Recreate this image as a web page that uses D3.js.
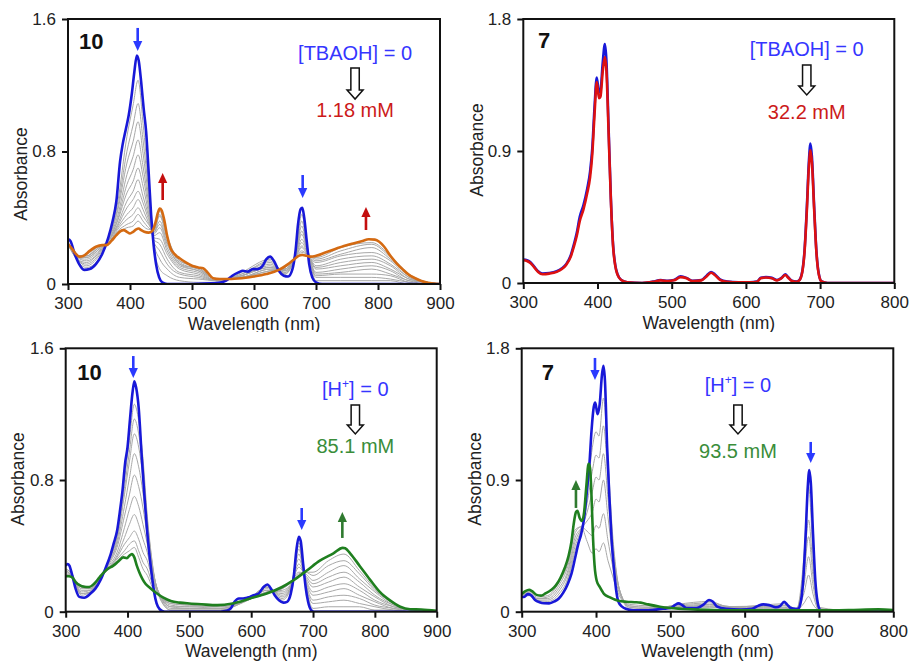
<!DOCTYPE html>
<html><head><meta charset="utf-8">
<script src="https://cdn.jsdelivr.net/npm/d3@7"></script>
<style>
body{margin:0;background:#fff}
svg{display:block}
text{font-family:"Liberation Sans",Arial,Helvetica,sans-serif}
</style>
</head><body>
<svg id="c" width="910" height="662"></svg>
<script>
// ---------------- DATA ----------------
const xTicksA = [300,400,500,600,700,800,900];
const xTicksB = [300,400,500,600,700,800];
const yTicksA = [0,0.8,1.6];
const yTicksB = [0,0.9,1.8];
const yTickLabelsA = ["0","0.8","1.6"];
const yTickLabelsB = ["0","0.9","1.8"];

// Panel 1: compound 10 + TBAOH
const p1BlueWl = [300,304,310,318,326,335,345,355,365,372,378,384,388,393,398,403,407,411,414,418,422,426,430,434,438,442,447,452,460,500,540,555,565,575,582,590,598,606,614,620,626,632,640,648,655,662,667,671,675,678,681,685,689,694,700,710,900];
const p1BlueAbs = [.27,.26,.19,.12,.085,.09,.12,.18,.28,.38,.50,.74,.84,.93,1.02,1.15,1.28,1.38,1.35,1.22,1.06,.92,.68,.42,.24,.12,.04,.01,0,0,.005,.02,.05,.07,.08,.075,.09,.09,.11,.15,.165,.14,.08,.05,.045,.09,.20,.36,.45,.46,.40,.26,.12,.04,.01,0,0];
const p1EndWl = [300,305,312,318,325,335,345,355,362,370,378,385,390,395,400,405,410,414,418,423,430,436,441,445,448,451,455,460,465,472,480,490,500,510,518,525,534,545,560,580,600,620,640,655,665,672,678,685,692,700,715,730,745,760,775,785,795,802,810,820,830,840,850,860,870,880,890,900];
const p1EndAbs = [.24,.22,.185,.165,.17,.20,.225,.235,.235,.26,.295,.32,.325,.315,.305,.315,.33,.335,.325,.315,.31,.32,.37,.43,.455,.445,.39,.29,.22,.18,.155,.13,.11,.10,.095,.07,.035,.03,.03,.035,.045,.06,.085,.12,.15,.17,.175,.17,.165,.17,.19,.21,.23,.245,.26,.27,.268,.255,.225,.17,.125,.088,.055,.035,.018,.008,.003,0];
const p1GrayWl = [300,315,330,350,365,380,395,405,413,421,430,438,448,460,480,510,540,580,626,650,668,677,686,700,740,790,820,850,880,900];
const p1Gray = [
 [.26,.14,.10,.15,.28,.49,.89,1.08,1.23,.97,.60,.24,.09,.05,.02,.01,.01,.07,.15,.06,.21,.42,.23,.02,.02,.02,.02,.00,0,0],
 [.25,.15,.11,.17,.27,.46,.80,.96,1.09,.87,.56,.25,.15,.09,.04,.03,.02,.06,.14,.06,.20,.38,.22,.04,.04,.04,.03,.01,0,0],
 [.25,.15,.12,.18,.27,.44,.73,.86,.98,.79,.52,.26,.20,.12,.06,.04,.02,.06,.13,.07,.20,.35,.21,.05,.06,.06,.05,.01,0,0],
 [.25,.15,.13,.19,.27,.41,.66,.77,.87,.71,.49,.27,.24,.15,.07,.05,.02,.05,.12,.07,.19,.32,.21,.06,.07,.09,.06,.02,0,0],
 [.25,.16,.14,.19,.26,.39,.60,.69,.78,.65,.46,.28,.27,.18,.09,.06,.02,.05,.11,.08,.19,.30,.20,.07,.09,.11,.08,.02,.01,0],
 [.25,.16,.15,.20,.26,.38,.55,.62,.70,.59,.43,.29,.31,.20,.10,.07,.02,.05,.10,.08,.18,.27,.20,.09,.11,.13,.09,.03,.01,0],
 [.25,.16,.16,.21,.26,.36,.50,.56,.63,.53,.41,.30,.34,.22,.11,.08,.02,.05,.10,.09,.18,.25,.19,.10,.13,.15,.11,.03,.01,0],
 [.24,.16,.16,.21,.26,.35,.46,.51,.56,.49,.39,.31,.36,.24,.12,.08,.03,.04,.09,.09,.17,.23,.19,.11,.15,.17,.12,.04,.01,0],
 [.24,.17,.17,.22,.26,.34,.42,.46,.51,.45,.37,.31,.38,.25,.12,.09,.03,.04,.09,.09,.17,.22,.18,.13,.17,.19,.14,.04,.01,0],
 [.24,.17,.17,.22,.25,.33,.39,.42,.46,.41,.36,.32,.41,.27,.13,.09,.03,.04,.08,.09,.17,.20,.18,.14,.18,.22,.15,.05,.01,0],
 [.24,.17,.17,.23,.25,.32,.36,.38,.42,.38,.34,.32,.42,.28,.14,.10,.03,.04,.08,.10,.16,.19,.18,.15,.20,.24,.16,.05,.01,0],
 [.24,.17,.18,.23,.25,.31,.34,.35,.38,.35,.33,.33,.44,.29,.14,.10,.03,.04,.07,.10,.16,.18,.17,.16,.22,.25,.17,.06,.01,0]
];

// Panel 2: compound 7 + TBAOH
const p2Wl = [300,305,310,315,320,326,335,345,352,358,364,368,372,376,381,386,390,393,396,399,402,404,407,410,412,415,418,421,424,427,432,440,460,475,485,495,503,512,520,528,540,547,553,558,565,575,590,605,615,620,627,635,642,648,653,657,662,668,672,676,679,682,685,687,689,692,695,698,702,710,800];
const p2BlueAbs = [.16,.155,.14,.11,.08,.065,.068,.08,.10,.13,.19,.26,.34,.45,.53,.64,.76,.92,1.20,1.40,1.30,1.31,1.50,1.63,1.52,1.05,.58,.26,.12,.06,.02,.005,0,.01,.02,.015,.02,.045,.035,.015,.02,.05,.075,.06,.025,.01,.005,.005,.01,.035,.04,.035,.02,.035,.06,.04,.015,.01,.02,.08,.22,.50,.84,.95,.86,.52,.22,.07,.01,0,0];
const p2RedAbs = [.155,.15,.135,.105,.075,.06,.064,.076,.095,.125,.18,.245,.32,.42,.50,.61,.72,.88,1.15,1.37,1.26,1.27,1.44,1.54,1.45,1.02,.57,.25,.115,.055,.02,.005,0,.008,.018,.013,.018,.04,.032,.013,.018,.045,.07,.055,.022,.008,.004,.004,.008,.032,.037,.032,.018,.032,.055,.036,.013,.008,.018,.075,.21,.48,.80,.905,.82,.50,.21,.065,.01,0,0];

// Panel 3: compound 10 + H+
const p3BlueWl = [300,303,306,310,316,322,330,340,348,356,364,372,378,383,388,392,396,400,404,408,411,414,418,423,427,431,435,439,443,447,452,460,550,560,567,573,580,587,593,598,604,612,620,626,632,638,645,652,658,664,669,673,677,680,684,688,692,697,702,900];
const p3BlueAbs = [.28,.29,.28,.23,.14,.09,.085,.11,.14,.19,.26,.34,.42,.49,.62,.74,.90,1.00,1.17,1.33,1.40,1.36,1.24,.94,.72,.52,.36,.23,.12,.05,.015,0,0,.005,.02,.06,.08,.08,.085,.09,.10,.11,.15,.165,.14,.10,.07,.055,.06,.11,.22,.37,.455,.43,.29,.15,.06,.01,0,0];
const p3EndWl = [300,305,310,316,323,330,338,346,355,366,377,385,393,399,403,407,411,415,419,424,429,436,446,458,470,485,500,520,545,570,598,625,650,668,690,711,733,748,752,760,776,792,808,825,841,857,875,900];
const p3EndAbs = [.215,.215,.21,.18,.16,.152,.15,.17,.21,.255,.28,.305,.33,.325,.34,.35,.33,.28,.24,.20,.17,.145,.115,.085,.065,.055,.05,.045,.04,.05,.08,.11,.15,.19,.25,.31,.355,.388,.385,.355,.275,.195,.12,.067,.03,.015,.013,.005];
const p3GrayWl = [300,310,325,340,355,370,383,395,403,411,418,425,432,440,450,470,500,550,600,625,650,665,677,688,700,725,750,775,800,830,860,900];
const p3Gray = [
 [.26,.23,.10,.12,.19,.31,.47,.80,1.04,1.26,1.16,.93,.58,.30,.10,.01,.01,.01,.09,.15,.07,.15,.42,.16,.02,.03,.03,.03,.01,.01,0,0],
 [.26,.23,.11,.12,.19,.31,.45,.75,.97,1.17,1.08,.87,.56,.29,.11,.01,.01,.01,.09,.15,.08,.16,.40,.17,.05,.06,.07,.05,.03,.01,0,0],
 [.25,.22,.11,.12,.20,.30,.43,.71,.91,1.08,1.00,.81,.54,.28,.12,.02,.02,.02,.09,.15,.09,.16,.38,.18,.07,.09,.10,.08,.04,.02,0,0],
 [.25,.22,.12,.13,.20,.30,.41,.64,.81,.96,.88,.72,.50,.27,.12,.03,.02,.02,.08,.14,.10,.16,.35,.19,.10,.12,.14,.10,.06,.02,.01,0],
 [.24,.22,.13,.13,.20,.29,.39,.58,.71,.83,.76,.63,.46,.26,.12,.03,.03,.02,.08,.13,.11,.17,.32,.20,.12,.15,.17,.13,.07,.03,.01,0],
 [.23,.22,.14,.14,.20,.28,.36,.51,.62,.70,.64,.53,.41,.24,.12,.04,.03,.03,.08,.13,.12,.17,.29,.21,.15,.18,.21,.15,.09,.03,.01,0],
 [.23,.21,.15,.14,.21,.27,.34,.45,.53,.59,.53,.44,.36,.22,.11,.05,.04,.03,.08,.12,.13,.17,.27,.22,.17,.21,.24,.18,.10,.04,.01,0],
 [.22,.21,.15,.14,.21,.27,.33,.41,.45,.49,.44,.36,.31,.20,.11,.05,.04,.04,.08,.12,.14,.18,.24,.23,.19,.24,.28,.20,.12,.04,.01,0],
 [.22,.21,.16,.15,.21,.26,.32,.37,.41,.43,.37,.30,.26,.17,.10,.06,.05,.04,.08,.11,.14,.18,.23,.24,.22,.28,.31,.23,.13,.05,.01,0],
 [.22,.21,.16,.15,.21,.26,.31,.35,.37,.39,.33,.26,.22,.15,.10,.06,.05,.04,.08,.11,.15,.18,.22,.24,.24,.31,.35,.25,.14,.05,.01,0]
];

// Panel 4: compound 7 + H+
const p4BlueWl = [300,304,308,312,318,324,330,337,344,350,356,362,367,372,376,380,384,388,391,394,397,399,402,405,408,410,412,415,418,421,424,427,430,435,440,450,470,490,500,506,511,516,522,535,545,552,557,563,575,595,610,618,625,633,642,648,653,657,662,668,672,676,679,682,685,687,689,692,695,698,702,710,800];
const p4BlueAbs = [.10,.103,.12,.115,.08,.065,.058,.057,.07,.09,.13,.19,.26,.37,.46,.53,.64,.84,1.00,1.24,1.40,1.43,1.35,1.42,1.62,1.68,1.58,1.12,.78,.49,.30,.15,.07,.035,.02,.01,.01,.02,.025,.045,.057,.045,.025,.025,.05,.08,.07,.035,.02,.015,.02,.04,.05,.045,.03,.04,.068,.05,.025,.02,.02,.08,.23,.52,.86,.968,.88,.53,.22,.07,.01,0,0];
const p4EndWl = [300,305,310,314,320,326,332,340,346,352,358,363,367,370,373,375,378,381,384,387,390,392,394,396,398,401,405,411,418,430,441,452,460,470,486,500,531,560,600,650,700,740,780,800];
const p4EndAbs = [.12,.14,.15,.14,.115,.11,.125,.15,.18,.23,.30,.38,.48,.60,.68,.69,.64,.62,.68,.86,1.01,.98,.78,.50,.32,.21,.17,.12,.10,.075,.068,.065,.062,.05,.034,.025,.016,.012,.01,.01,.01,.012,.016,.012];
const p4GrayWl = [300,310,320,335,350,362,372,380,388,395,400,404,410,416,422,428,435,445,470,510,553,580,625,653,670,680,686,692,700,750,800];
const p4Gray = [
 [.10,.11,.07,.06,.10,.21,.42,.55,.80,1.12,1.23,1.20,1.46,1.05,.55,.25,.09,.02,.01,.05,.07,.03,.045,.055,.02,.40,.855,.40,.03,.005,.005],
 [.11,.12,.08,.07,.12,.23,.45,.56,.74,.96,1.07,1.05,1.27,.92,.50,.24,.10,.03,.02,.045,.06,.035,.04,.045,.02,.30,.627,.30,.02,.005,.005],
 [.11,.12,.08,.08,.14,.26,.48,.57,.68,.82,.92,.90,1.08,.78,.45,.23,.10,.03,.02,.04,.05,.035,.035,.04,.02,.25,.513,.24,.02,.005,.005],
 [.11,.13,.09,.09,.16,.28,.51,.57,.62,.68,.77,.75,.90,.65,.40,.21,.10,.04,.03,.035,.045,.035,.03,.03,.015,.19,.376,.18,.015,.005,.005],
 [.12,.13,.09,.10,.18,.31,.54,.58,.55,.52,.59,.57,.67,.49,.32,.18,.09,.04,.03,.03,.035,.03,.025,.025,.015,.13,.251,.12,.01,.005,.005],
 [.12,.14,.10,.11,.20,.33,.56,.58,.48,.40,.43,.41,.47,.35,.25,.15,.08,.05,.04,.03,.03,.025,.02,.02,.01,.06,.103,.05,.01,.005,.005]
];

// ---------------- COLOURS ----------------
const C = {
  blueLine:"#1818d8", blueText:"#3535ff", blueArrow:"#2a3aff",
  orange:"#d46a12", redText:"#cc1a1a", redArrow:"#c40e0e", redLine:"#dd1010",
  greenLine:"#1f7f1f", greenText:"#3a8d3a", greenArrow:"#2f7a2f",
  gray:"#a8a8a8", axis:"#111"
};
const FONT = '"Liberation Sans",Arial,Helvetica,sans-serif';

const svg = d3.select("#c");
svg.append("rect").attr("width",910).attr("height",662).attr("fill","#fff");
const defs = svg.append("defs");
defs.append("clipPath").attr("id","topclip").append("rect").attr("x",0).attr("y",0).attr("width",910).attr("height",332);

function drawPanel(root, cfg, idx){
  const x = d3.scaleLinear().domain(cfg.xDomain).range([cfg.left, cfg.right]);
  const y = d3.scaleLinear().domain(cfg.yDomain).range([cfg.bottom, cfg.top]);
  const g = root.append("g");
  const cid = "plotclip"+idx;
  defs.append("clipPath").attr("id",cid).append("rect")
    .attr("x",cfg.left).attr("y",cfg.top-6).attr("width",cfg.right-cfg.left).attr("height",cfg.bottom-cfg.top+6);
  const line = d3.line().x(d=>x(d[0])).y(d=>y(d[1])).curve(d3.curveMonotoneX);
  const lines = g.append("g").attr("clip-path",`url(#${cid})`);
  if (cfg.grays){
    cfg.grays.values.forEach(arr=>{
      lines.append("path").attr("d", line(d3.zip(cfg.grays.wl, arr)))
        .attr("fill","none").attr("stroke",C.gray).attr("stroke-width",1);
    });
  }
  cfg.series.forEach(s=>{
    lines.append("path").attr("d", line(d3.zip(s.wl, s.abs)))
      .attr("fill","none").attr("stroke",s.color).attr("stroke-width",s.width||2.6)
      .attr("stroke-linejoin","round");
  });
  // axes
  const xAxis = d3.axisBottom(x).tickValues(cfg.xTicks).tickFormat(d3.format("d")).tickSize(6).tickPadding(7).tickSizeOuter(0);
  const yAxis = d3.axisLeft(y).tickValues(cfg.yTicks).tickFormat((d,i)=>cfg.yTickLabels[i]).tickSize(6).tickPadding(6).tickSizeOuter(0);
  const gx = g.append("g").attr("transform",`translate(0,${cfg.bottom})`).call(xAxis);
  const gy = g.append("g").attr("transform",`translate(${cfg.left},0)`).call(yAxis);
  [gx,gy].forEach(a=>{
    a.select(".domain").remove();
    a.selectAll("line").attr("stroke",C.axis).attr("stroke-width",2);
    a.selectAll("text").attr("font-family",FONT).attr("font-size",17).attr("fill","#222");
  });
  // frame
  g.append("rect").attr("x",cfg.left).attr("y",cfg.top).attr("width",cfg.right-cfg.left).attr("height",cfg.bottom-cfg.top)
    .attr("fill","none").attr("stroke",C.axis).attr("stroke-width",2);
  // axis titles
  g.append("text").attr("x",(cfg.left+cfg.right)/2).attr("y",cfg.bottom+45.5).attr("text-anchor","middle")
    .attr("font-size",17.5).attr("fill","#222").text("Wavelength (nm)");
  g.append("text").attr("transform",`translate(${cfg.ylabX},${cfg.ylabY}) rotate(-90)`).attr("text-anchor","middle")
    .attr("font-size",17.5).attr("fill","#222").text("Absorbance");
  // compound label
  g.append("text").attr("x",x(cfg.comp.w)).attr("y",y(cfg.comp.a)).attr("font-size",22).attr("font-weight","bold")
    .attr("fill","#111").text(cfg.comp.label);
  // concentration labels
  const a = cfg.ann;
  const t1 = g.append("text").attr("x",x(a.w)).attr("y",y(a.a1)).attr("text-anchor","middle").attr("font-size",20).attr("fill",C.blueText);
  if (a.sup){
    t1.append("tspan").text("[H");
    t1.append("tspan").attr("font-size",12).attr("dy",-8).text("+");
    t1.append("tspan").attr("font-size",20).attr("dy",8).text("] = 0");
  } else t1.text(a.start);
  // hollow arrow
  const cx = x(a.w), yt = y(a.aTop), yb = y(a.aTip);
  const sw=4.2, hw=8, hh=9;
  g.append("path").attr("d",`M${cx-sw},${yt} L${cx+sw},${yt} L${cx+sw},${yb-hh} L${cx+hw},${yb-hh} L${cx},${yb} L${cx-hw},${yb-hh} L${cx-sw},${yb-hh} Z`)
    .attr("fill","#fff").attr("stroke","#111").attr("stroke-width",1.5).attr("stroke-linejoin","miter");
  g.append("text").attr("x",x(a.w)).attr("y",y(a.a2)).attr("text-anchor","middle").attr("font-size",20).attr("fill",a.endColor).text(a.end);
  // solid arrows
  (cfg.arrows||[]).forEach(ar=>{
    const ax = x(ar.w), y0 = y(ar.from), y1 = y(ar.to);
    const dir = y1>y0 ? 1 : -1; // 1 = pointing down
    const hl = 10, hwid = 4.6;
    g.append("line").attr("x1",ax).attr("x2",ax).attr("y1",y0).attr("y2",y1-dir*hl+dir*1)
      .attr("stroke",ar.color).attr("stroke-width",2.6);
    g.append("path").attr("d",`M${ax},${y1} L${ax-hwid},${y1-dir*hl} L${ax+hwid},${y1-dir*hl} Z`).attr("fill",ar.color);
  });
}

const topG = svg.append("g").attr("clip-path","url(#topclip)");
const botG = svg.append("g");

drawPanel(topG, {
  xDomain:[300,900], yDomain:[0,1.6], left:68, right:440, top:19, bottom:284,
  xTicks:xTicksA, yTicks:yTicksA, yTickLabels:yTickLabelsA, ylabX:26.5, ylabY:174,
  grays:{wl:p1GrayWl, values:p1Gray},
  series:[{wl:p1BlueWl, abs:p1BlueAbs, color:C.blueLine},{wl:p1EndWl, abs:p1EndAbs, color:C.orange}],
  comp:{label:"10", w:317.7, a:1.419},
  ann:{w:763, a1:1.353, start:"[TBAOH] = 0", aTop:1.304, aTip:1.117, a2:1.008, end:"1.18 mM", endColor:C.redText},
  arrows:[{w:412.4,from:1.546,to:1.407,color:C.blueArrow},{w:452.7,from:.507,to:.670,color:C.redArrow},
          {w:678.5,from:.658,to:.519,color:C.blueArrow},{w:780.6,from:.326,to:.465,color:C.redArrow}]
},1);

drawPanel(topG, {
  xDomain:[300,800], yDomain:[0,1.8], left:523.3, right:894.3, top:19, bottom:283,
  xTicks:xTicksB, yTicks:yTicksB, yTickLabels:yTickLabelsB, ylabX:483, ylabY:150,
  series:[{wl:p2Wl, abs:p2BlueAbs, color:C.blueLine},{wl:p2Wl, abs:p2RedAbs, color:C.redLine}],
  comp:{label:"7", w:319.8, a:1.602},
  ann:{w:682, a1:1.548, start:"[TBAOH] = 0", aTop:1.486, aTip:1.282, a2:1.118, end:"32.2 mM", endColor:C.redText},
  arrows:[]
},2);

drawPanel(botG, {
  xDomain:[300,900], yDomain:[0,1.6], left:65.7, right:436.7, top:348.3, bottom:611.7,
  xTicks:xTicksA, yTicks:yTicksA, yTickLabels:yTickLabelsA, ylabX:24, ylabY:479,
  grays:{wl:p3GrayWl, values:p3Gray},
  series:[{wl:p3BlueWl, abs:p3BlueAbs, color:C.blueLine},{wl:p3EndWl, abs:p3EndAbs, color:C.greenLine}],
  comp:{label:"10", w:318.8, a:1.408},
  ann:{w:768.4, a1:1.31, sup:true, aTop:1.256, aTip:1.08, a2:0.964, end:"85.1 mM", endColor:C.greenText},
  arrows:[{w:409.3,from:1.553,to:1.42,color:C.blueArrow},{w:681.7,from:.63,to:.496,color:C.blueArrow},
          {w:747.4,from:.448,to:.606,color:C.greenArrow}]
},3);

drawPanel(botG, {
  xDomain:[300,800], yDomain:[0,1.8], left:521.7, right:893.3, top:348.3, bottom:611.7,
  xTicks:xTicksB, yTicks:yTicksB, yTickLabels:yTickLabelsB, ylabX:480.5, ylabY:479,
  grays:{wl:p4GrayWl, values:p4Gray},
  series:[{wl:p4BlueWl, abs:p4BlueAbs, color:C.blueLine},{wl:p4EndWl, abs:p4EndAbs, color:C.greenLine}],
  comp:{label:"7", w:326.9, a:1.584},
  ann:{w:591, a1:1.502, sup:true, aTop:1.413, aTip:1.215, a2:1.05, end:"93.5 mM", endColor:C.greenText},
  arrows:[{w:398.6,from:1.734,to:1.584,color:C.blueArrow},{w:688.9,from:1.16,to:1.016,color:C.blueArrow},
          {w:373,from:.709,to:.90,color:C.greenArrow}]
},4);
</script>
</body></html>
